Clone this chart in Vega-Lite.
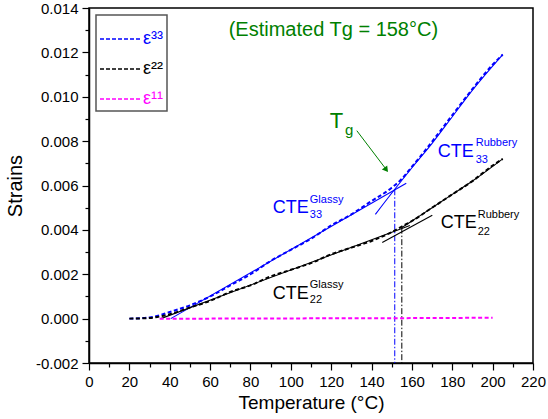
{
  "$schema": "https://vega.github.io/schema/vega-lite/v6.json",
  "width": 444,
  "height": 355,
  "autosize": {"type": "none"},
  "padding": {"left": 89, "top": 8, "right": 15, "bottom": 56},
  "background": "white",
  "config": {
    "font": "Liberation Sans",
    "view": {"stroke": "#000000", "strokeWidth": 1.5},
    "axis": {"grid": false, "domainColor": "#000000", "domainWidth": 1.5, "tickColor": "#000000", "tickWidth": 1.2, "labelColor": "#000000", "titleColor": "#000000", "labelFontSize": 15, "titleFontSize": 19, "titleFontWeight": "normal", "labelOverlap": false, "labelFlush": false, "labelBound": false}
  },
  "datasets": {
    "curves": [
      {"series": "e33", "T": 20, "s": 0.0},
      {"series": "e33", "T": 30, "s": 0.00005},
      {"series": "e33", "T": 40, "s": 0.0003},
      {"series": "e33", "T": 50, "s": 0.0006},
      {"series": "e33", "T": 60, "s": 0.001},
      {"series": "e33", "T": 70, "s": 0.0015},
      {"series": "e33", "T": 80, "s": 0.002},
      {"series": "e33", "T": 90, "s": 0.0026},
      {"series": "e33", "T": 100, "s": 0.0031},
      {"series": "e33", "T": 110, "s": 0.0036},
      {"series": "e33", "T": 120, "s": 0.0042},
      {"series": "e33", "T": 130, "s": 0.0047},
      {"series": "e33", "T": 140, "s": 0.0053},
      {"series": "e33", "T": 150, "s": 0.0059},
      {"series": "e33", "T": 155, "s": 0.0063},
      {"series": "e33", "T": 160, "s": 0.00685},
      {"series": "e33", "T": 165, "s": 0.0074},
      {"series": "e33", "T": 170, "s": 0.00798},
      {"series": "e33", "T": 180, "s": 0.00917},
      {"series": "e33", "T": 190, "s": 0.01035},
      {"series": "e33", "T": 200, "s": 0.01145},
      {"series": "e33", "T": 205, "s": 0.0119},
      {"series": "e22", "T": 20, "s": 0.0},
      {"series": "e22", "T": 30, "s": 0.00003},
      {"series": "e22", "T": 40, "s": 0.0002},
      {"series": "e22", "T": 50, "s": 0.0005},
      {"series": "e22", "T": 60, "s": 0.0008},
      {"series": "e22", "T": 70, "s": 0.0012},
      {"series": "e22", "T": 80, "s": 0.0015},
      {"series": "e22", "T": 90, "s": 0.0019},
      {"series": "e22", "T": 100, "s": 0.0022},
      {"series": "e22", "T": 110, "s": 0.0025},
      {"series": "e22", "T": 120, "s": 0.0029},
      {"series": "e22", "T": 130, "s": 0.0032},
      {"series": "e22", "T": 140, "s": 0.0035},
      {"series": "e22", "T": 150, "s": 0.0039},
      {"series": "e22", "T": 155, "s": 0.00415},
      {"series": "e22", "T": 160, "s": 0.0044},
      {"series": "e22", "T": 170, "s": 0.0050},
      {"series": "e22", "T": 180, "s": 0.0056},
      {"series": "e22", "T": 190, "s": 0.0062},
      {"series": "e22", "T": 200, "s": 0.0069},
      {"series": "e22", "T": 205, "s": 0.0072},
      {"series": "e11", "T": 35, "s": 0.0},
      {"series": "e11", "T": 60, "s": 0.0},
      {"series": "e11", "T": 100, "s": 0.00001},
      {"series": "e11", "T": 150, "s": 0.00002},
      {"series": "e11", "T": 200, "s": 0.00004}
    ],
    "fits": [
      {"comp": "33", "id": "glassy", "T": 40.5, "s": 0.0},
      {"comp": "33", "id": "glassy", "T": 157.2, "s": 0.0061},
      {"comp": "33", "id": "rubbery", "T": 141.9, "s": 0.0047},
      {"comp": "33", "id": "rubbery", "T": 151.5, "s": 0.00583},
      {"comp": "33", "id": "rubbery", "T": 160, "s": 0.0068},
      {"comp": "33", "id": "rubbery", "T": 170, "s": 0.0079},
      {"comp": "33", "id": "rubbery", "T": 180, "s": 0.0091},
      {"comp": "33", "id": "rubbery", "T": 190, "s": 0.0103},
      {"comp": "33", "id": "rubbery", "T": 205, "s": 0.0119},
      {"comp": "22", "id": "glassy", "T": 35.6, "s": 0.0},
      {"comp": "22", "id": "glassy", "T": 159, "s": 0.0042},
      {"comp": "22", "id": "tangent", "T": 145.3, "s": 0.00343},
      {"comp": "22", "id": "tangent", "T": 170.1, "s": 0.00466},
      {"comp": "22", "id": "upper", "T": 155, "s": 0.0041},
      {"comp": "22", "id": "upper", "T": 160, "s": 0.0044},
      {"comp": "22", "id": "upper", "T": 170, "s": 0.0050},
      {"comp": "22", "id": "upper", "T": 180, "s": 0.0056},
      {"comp": "22", "id": "upper", "T": 190, "s": 0.0062},
      {"comp": "22", "id": "upper", "T": 205, "s": 0.0072}
    ],
    "vlines": [
      {"comp": "33", "T": 151.5, "s": 0.00583},
      {"comp": "22", "T": 155.0, "s": 0.0041}
    ],
    "arrow": [
      {"T": 132.7, "s": 0.00847},
      {"T": 146.8, "s": 0.00678}
    ],
    "arrowhead": [
      {"T": 147.3, "s": 0.00671}
    ],
    "labels": [
      {"kind": "main", "comp": "33", "T": 91.1, "s": 0.00477, "text": "CTE"},
      {"kind": "small", "comp": "33", "T": 109.4, "s": 0.00522, "text": "Glassy"},
      {"kind": "small", "comp": "33", "T": 109.4, "s": 0.00455, "text": "33"},
      {"kind": "main", "comp": "22", "T": 91.1, "s": 0.0009, "text": "CTE"},
      {"kind": "small", "comp": "22", "T": 109.4, "s": 0.00139, "text": "Glassy"},
      {"kind": "small", "comp": "22", "T": 109.4, "s": 0.00072, "text": "22"},
      {"kind": "main", "comp": "33", "T": 172.8, "s": 0.0073, "text": "CTE"},
      {"kind": "small", "comp": "33", "T": 191.6, "s": 0.00779, "text": "Rubbery"},
      {"kind": "small", "comp": "33", "T": 191.6, "s": 0.00703, "text": "33"},
      {"kind": "main", "comp": "22", "T": 174.3, "s": 0.0041, "text": "CTE"},
      {"kind": "small", "comp": "22", "T": 192.6, "s": 0.00455, "text": "Rubbery"},
      {"kind": "small", "comp": "22", "T": 192.6, "s": 0.00378, "text": "22"}
    ],
    "green": [
      {"kind": "big", "T": 119.3, "s": 0.00859, "text": "T"},
      {"kind": "small", "T": 126.8, "s": 0.00829, "text": "g"},
      {"kind": "title", "T": 121.1, "s": 0.01275, "text": "(Estimated Tg = 158°C)"}
    ]
  },
  "encoding": {
    "x": {
      "field": "T", "type": "quantitative",
      "scale": {"domain": [0, 220], "nice": false, "zero": false},
      "axis": {
        "title": "Temperature (°C)",
        "values": [0, 10, 20, 30, 40, 50, 60, 70, 80, 90, 100, 110, 120, 130, 140, 150, 160, 170, 180, 190, 200, 210, 220],
        "labelExpr": "datum.value % 20 === 0 ? datum.label : ''",
        "tickSize": {"condition": {"test": "datum.value % 20 === 0", "value": 7}, "value": 4},
        "labelPadding": 4,
        "titlePadding": 4
      }
    },
    "y": {
      "field": "s", "type": "quantitative",
      "scale": {"domain": [-0.002, 0.014], "nice": false, "zero": false},
      "axis": {
        "title": "Strains",
        "titleFontSize": 20,
        "values": [-0.002, -0.001, 0, 0.001, 0.002, 0.003, 0.004, 0.005, 0.006, 0.007, 0.008, 0.009, 0.01, 0.011, 0.012, 0.013, 0.014],
        "labelExpr": "abs(round(datum.value * 1000)) % 2 === 0 ? replace(format(datum.value, '.3f'), '\u2212', '-') : ''",
        "tickSize": {"condition": {"test": "abs(round(datum.value * 1000)) % 2 === 0", "value": 7}, "value": 4},
        "labelPadding": 4,
        "titlePadding": 10
      }
    }
  },
  "layer": [
    {
      "data": {"name": "vlines"},
      "transform": [{"filter": "datum.comp === '33'"}],
      "mark": {"type": "rule", "color": "#0000ff", "strokeWidth": 1, "strokeDash": [6, 2, 1.5, 2]},
      "encoding": {"y2": {"datum": -0.002}}
    },
    {
      "data": {"name": "vlines"},
      "transform": [{"filter": "datum.comp === '22'"}],
      "mark": {"type": "rule", "color": "#000000", "strokeWidth": 1, "strokeDash": [6, 2, 1.5, 2]},
      "encoding": {"y2": {"datum": -0.002}}
    },
    {
      "data": {"name": "fits"},
      "transform": [{"filter": "datum.comp === '33'"}],
      "mark": {"type": "line", "color": "#0000ff", "strokeWidth": 1.1, "interpolate": "monotone"},
      "encoding": {"detail": {"field": "id"}}
    },
    {
      "data": {"name": "fits"},
      "transform": [{"filter": "datum.comp === '22'"}],
      "mark": {"type": "line", "color": "#000000", "strokeWidth": 1.1, "interpolate": "monotone"},
      "encoding": {"detail": {"field": "id"}}
    },
    {
      "data": {"name": "curves"},
      "mark": {"type": "line", "strokeWidth": 2, "strokeDash": [4, 2.5], "interpolate": "monotone"},
      "encoding": {
        "color": {
          "field": "series", "type": "nominal",
          "scale": {"domain": ["e33", "e22", "e11"], "range": ["#0000ff", "#000000", "#ff00ff"]},
          "legend": {
            "title": null,
            "orient": "top-left",
            "offset": 7,
            "symbolType": "stroke",
            "symbolDash": [4, 2],
            "symbolStrokeWidth": 1.5,
            "symbolSize": 1600,
            "labelExpr": "datum.value === 'e33' ? 'ε³³' : datum.value === 'e22' ? 'ε²²' : 'ε¹¹'",
            "labelFontSize": 18,
            "labelOffset": 2,
            "labelLimit": 40,
            "rowPadding": -9,
            "padding": 3,
            "strokeColor": "#555555",
            "fillColor": "white",
            "encode": {
              "labels": {"update": {"fill": {"signal": "datum.value === 'e33' ? '#0000ff' : datum.value === 'e11' ? '#ff00ff' : '#000000'"}}},
              "legend": {"update": {"strokeWidth": {"value": 1.5}}}
            }
          }
        }
      }
    },
    {
      "data": {"name": "arrow"},
      "mark": {"type": "line", "color": "#008000", "strokeWidth": 1}
    },
    {
      "data": {"name": "arrowhead"},
      "mark": {"type": "point", "shape": "triangle-up", "angle": 143, "filled": true, "size": 45, "color": "#008000", "opacity": 1}
    },
    {
      "data": {"name": "labels"},
      "transform": [{"filter": "datum.kind === 'main' && datum.comp === '33'"}],
      "mark": {"type": "text", "align": "left", "baseline": "alphabetic", "fontSize": 18, "color": "#0000ff"},
      "encoding": {"text": {"field": "text"}}
    },
    {
      "data": {"name": "labels"},
      "transform": [{"filter": "datum.kind === 'small' && datum.comp === '33'"}],
      "mark": {"type": "text", "align": "left", "baseline": "alphabetic", "fontSize": 11, "color": "#0000ff"},
      "encoding": {"text": {"field": "text"}}
    },
    {
      "data": {"name": "labels"},
      "transform": [{"filter": "datum.kind === 'main' && datum.comp === '22'"}],
      "mark": {"type": "text", "align": "left", "baseline": "alphabetic", "fontSize": 18, "color": "#000000"},
      "encoding": {"text": {"field": "text"}}
    },
    {
      "data": {"name": "labels"},
      "transform": [{"filter": "datum.kind === 'small' && datum.comp === '22'"}],
      "mark": {"type": "text", "align": "left", "baseline": "alphabetic", "fontSize": 11, "color": "#000000"},
      "encoding": {"text": {"field": "text"}}
    },
    {
      "data": {"name": "green"},
      "transform": [{"filter": "datum.kind === 'big'"}],
      "mark": {"type": "text", "align": "left", "baseline": "alphabetic", "fontSize": 22, "color": "#008000"},
      "encoding": {"text": {"field": "text"}}
    },
    {
      "data": {"name": "green"},
      "transform": [{"filter": "datum.kind === 'small'"}],
      "mark": {"type": "text", "align": "left", "baseline": "alphabetic", "fontSize": 15, "color": "#008000"},
      "encoding": {"text": {"field": "text"}}
    },
    {
      "data": {"name": "green"},
      "transform": [{"filter": "datum.kind === 'title'"}],
      "mark": {"type": "text", "align": "center", "baseline": "alphabetic", "fontSize": 20, "color": "#008000"},
      "encoding": {"text": {"field": "text"}}
    }
  ]
}
